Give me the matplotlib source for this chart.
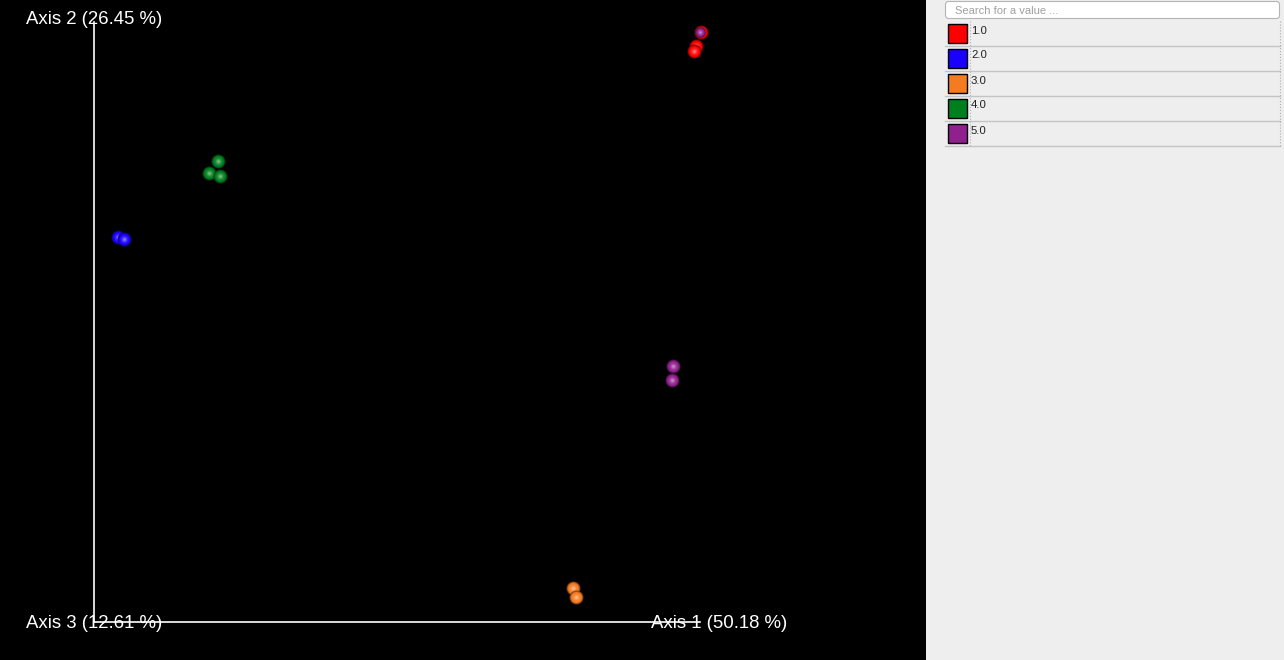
import matplotlib.pyplot as plt
from matplotlib.patches import Rectangle, FancyBboxPatch

plt.rcParams['font.family'] = ['Liberation Sans', 'DejaVu Sans']

# PCoA coordinates (arbitrary units)
groups = ['1.0', '2.0', '3.0', '4.0', '5.0']
colors = ['#ff0000', '#1a00ff', '#f57b20', '#007f1f', '#91208f']
ax1_vals = [[607, 602, 600], [24, 30], [479, 482], [124, 115, 126], [579, 578, 606]]
ax2_vals = [[590, 576, 571], [385, 383], [34, 25], [461, 449, 446], [256, 242, 590]]
axis_labels = ['Axis 1 (50.18 %)', 'Axis 2 (26.45 %)', 'Axis 3 (12.61 %)']

W, H = 1284, 660
fig = plt.figure(figsize=(W / 100, H / 100), dpi=100)
fig.patch.set_facecolor('#eeeeee')

# main 3D-like view
ax = fig.add_axes([0, 0, 926 / W, 1])
ax.set_facecolor('black')
ax.set_xlim(-94, 832)
ax.set_ylim(-38, 622)
ax.axis('off')
ax.add_patch(Rectangle((-94, -38), 926, 660, color='black', zorder=0))

ax.plot([0, 0], [0, 600], color='white', lw=1.2, zorder=1)
ax.plot([0, 606], [0, 0], color='white', lw=1.2, zorder=1)

lab_kw = dict(color='white', fontsize=13.4, va='center', zorder=2)
ax.text(-68, 602, axis_labels[1], **lab_kw)
ax.text(-68, -1.5, axis_labels[2], **lab_kw)
ax.text(557, -1.5, axis_labels[0], **lab_kw)


def mix(c, f):
    # f > 0 lightens towards white, f < 0 darkens towards black
    r, g, b = plt.matplotlib.colors.to_rgb(c)
    if f >= 0:
        return (r + (1 - r) * f, g + (1 - g) * f, b + (1 - b) * f)
    return (r * (1 + f), g * (1 + f), b * (1 + f))


layers = [(100, -0.5), (80, -0.25), (60, 0.0), (34, 0.1), (14, 0.25), (4, 0.45)]

for gi in range(len(groups)):
    for x, y in zip(ax1_vals[gi], ax2_vals[gi]):
        for k, (s, f) in enumerate(layers):
            # the purple sample hidden inside the red one is drawn smaller
            if gi == 4 and y > 500:
                s = s * 0.55
            ax.scatter([x], [y], s=s, color=mix(colors[gi], f), lw=0, zorder=3)

# side panel with color legend
side = fig.add_axes([927 / W, 0, 357 / W, 1])
side.set_xlim(927, 1284)
side.set_ylim(660, 0)
side.axis('off')
side.add_patch(Rectangle((927, 0), 357, 660, color='#eeeeee', zorder=0))

side.add_patch(FancyBboxPatch((945.5, 1.5), 334, 17, boxstyle='round,pad=0,rounding_size=3',
                              facecolor='white', edgecolor='#b5b5b5', lw=0.8))
side.text(955, 10.5, 'Search for a value ...', color='#a0a0a0', fontsize=8, va='center')

row_h = 25
top = 21
for i, (g, c) in enumerate(zip(groups, colors)):
    y0 = top + i * row_h
    side.add_patch(Rectangle((947.5, y0 + 3), 19, 19, facecolor=c, edgecolor='black', lw=1))
    side.text(971, y0 + 9.5, g, color='#222222', fontsize=8.2, va='center')
    side.plot([945, 1280], [y0 + row_h, y0 + row_h], color='#c4c4c4', lw=1)
side.plot([969.5, 969.5], [top, top + 5 * row_h], color='#b0b0b0', lw=0.8, ls=':')
side.plot([1279.5, 1279.5], [top, top + 5 * row_h], color='#b0b0b0', lw=0.8, ls=':')

fig.savefig('out.png', dpi=100, facecolor=fig.get_facecolor())
